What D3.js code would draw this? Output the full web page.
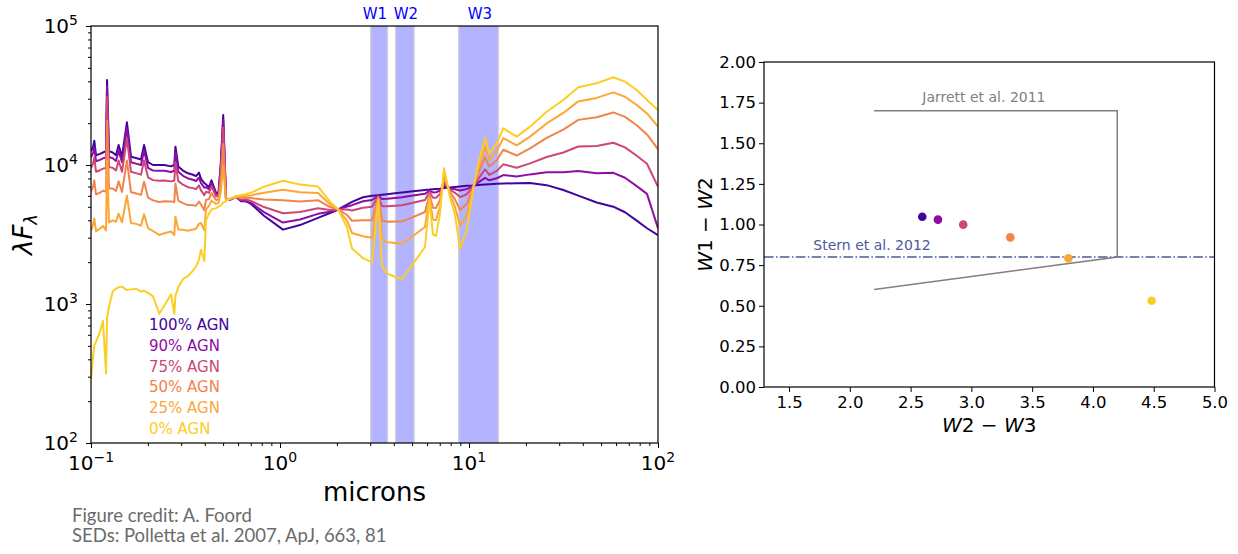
<!DOCTYPE html>
<html><head><meta charset="utf-8">
<script src="https://cdn.jsdelivr.net/npm/d3@7"></script>
<style>body{margin:0;background:#fff;} svg{display:block;font-family:"DejaVu Sans",sans-serif;}</style>
</head><body>
<script>
// ---------------- DATA ----------------
const wavelength = [0.1,0.1025,0.1041,0.1063,0.1116,0.1157,0.1201,0.1216,0.1245,0.1303,
 0.1356,0.1400,0.1459,0.1549,0.1628,0.1730,0.1839,0.1909,0.2003,0.2128,
 0.2298,0.2443,0.2650,0.2759,0.2798,0.2896,0.3067,0.3260,0.3465,0.3594,
 0.3727,0.3819,0.3976,0.4059,0.4210,0.4340,0.4585,0.4726,0.4861,0.5007,
 0.5179,0.5437,0.5852,0.6220,0.6563,0.7024,0.8228,1.037,1.276,1.589,
 1.839,2.035,2.262,2.404,2.749,3.068,3.312,3.465,3.683,4.059,
 4.421,5.054,5.851,6.180,6.449,6.690,7.024,7.375,7.932,8.434,
 8.964,9.724,10.54,11.16,12.16,12.81,14.02,15.19,17.88,21.03,
 25.77,31.54,37.87,47.39,58.01,66.90,77.17,87.47,100];
const agn100 = [12590,13490,14960,11750,12020,12300,12590,40830,12590,12300,
 11750,13930,11480,20280,11480,11220,10960,13930,10470,10000,
 10000,10000,9772,10000,13550,9772,9120,8710,8511,8318,
 8810,7943,7413,7244,6918,7762,6310,6310,10280,22910,
 5754,5623,5916,5495,5495,5248,4315,3428,3698,4169,
 4519,4786,5188,5433,5861,5998,6067,6109,6166,6266,
 6353,6486,6607,6653,6699,6730,6761,6839,6887,6950,
 6998,7079,7129,7178,7244,7278,7328,7362,7396,7413,
 7161,6607,6026,5370,5012,4571,3981,3508,3130];
const agn90 = [11360,12180,13510,10630,10880,11150,11360,36830,11430,11190,
 10700,12670,10470,18380,10460,10230,9987,12660,9543,9114,
 9085,9098,8913,9085,12310,8927,8359,7998,7834,7672,
 8138,7395,6876,6918,6673,7465,6169,6180,9765,21160,
 5729,5636,5920,5556,5562,5354,4582,3856,4052,4452,
 4612,4786,5024,5141,5489,5598,6020,5684,5715,5796,
 5869,6032,6203,6548,6345,6366,6532,7101,6787,6692,
 6549,6710,7092,7460,8076,7763,8027,8463,8256,8560,
 8860,8884,9045,8706,8787,8095,7050,6200,3510];
const agn75 = [9515,10220,11350,8947,9173,9415,9522,30820,9682,9533,
 9135,10780,8944,15530,8929,8737,8528,10760,8154,7784,
 7713,7744,7623,7713,10450,7659,7219,6929,6818,6705,
 7130,6571,6071,6428,6306,7019,5958,5986,8992,18530,
 5690,5656,5926,5645,5663,5514,4982,4498,4585,4877,
 4750,4786,4778,4703,4931,4998,5950,5048,5040,5093,
 5142,5353,5598,6390,5815,5821,6188,7495,6637,6304,
 5877,6156,7037,7884,9323,8492,9076,10110,9547,10280,
 11410,12300,13580,13710,14450,13380,11650,10200,6980];
const agn50 = [6439,6954,7731,6144,6326,6530,6453,20810,6773,6765,
 6519,7624,6407,10770,6377,6254,6095,7588,5836,5568,
 5426,5489,5474,5426,7349,5545,5317,5148,5125,5090,
 5450,5200,4728,5613,5693,6274,5604,5661,7705,14140,
 5625,5689,5937,5795,5831,5779,5649,5569,5471,5584,
 4982,4786,4368,3973,4000,3997,5833,3986,3913,3918,
 3930,4218,4589,6126,4931,4910,5614,8151,6388,5658,
 4755,5234,6946,8589,11400,9704,10820,12870,11700,13150,
 15660,17990,21120,22050,23890,22190,19330,16600,12970];
const agn25 = [3364,3686,4116,3341,3478,3644,3385,10800,3864,3998,
 3904,4472,3871,6014,3826,3771,3663,4417,3520,3351,
 3138,3233,3324,3138,4249,3432,3416,3367,3432,3477,
 3770,3827,3385,4797,5080,5531,5252,5337,6417,9756,
 5560,5722,5947,5945,5999,6045,6316,6639,6358,6291,
 5214,4786,3958,3242,3069,2996,5716,2924,2787,2745,
 2718,3085,3580,5862,4047,4001,5040,8807,6138,5012,
 3634,4311,6853,9295,13480,10920,12570,15620,13850,16010,
 19900,23690,28670,30390,33320,31000,27000,23500,18880];
const agn0 = [288,417,501,537,631,759,316,794,955,1230,
 1288,1318,1334,1259,1274,1288,1230,1245,1202,1135,
 851,977,1175,851,1148,1318,1514,1585,1738,1862,
 2089,2455,2042,3981,4467,4786,4898,5012,5129,5370,
 5495,5754,5957,6095,6166,6310,6982,7709,7244,6998,
 5445,4786,3548,2512,2138,1995,5598,1862,1660,1570,
 1507,1950,2570,5598,3162,3090,4467,9462,5888,4365,
 2512,3388,6761,10000,15560,12130,14320,18370,16000,18880,
 24150,29380,36220,38730,42760,39810,34670,29380,24800];
const seriesLabels = ["100% AGN","90% AGN","75% AGN","50% AGN","25% AGN","0% AGN"];
const seriesColors = ["#41049d","#8f0da4","#cc4778","#f2844b","#fca636","#fcce25"];
const bandNames = ["W1","W2","W3"];
const bandLo = [3.02, 4.09, 8.82];
const bandHi = [3.70, 5.12, 14.3];
const sedXTicks = [0.1, 1, 10, 100];
const sedXTickExp = ["\u22121","0","1","2"];
const sedYTicks = [1e2, 1e3, 1e4, 1e5];
const sedYTickExp = ["2","3","4","5"];
const colorW2W3 = [2.596, 2.725, 2.933, 3.32, 3.798, 4.483];
const colorW1W2 = [1.048, 1.030, 0.999, 0.921, 0.792, 0.531];
const ccXTicks = [1.5, 2.0, 2.5, 3.0, 3.5, 4.0, 4.5, 5.0];
const ccYTicks = [0, 0.25, 0.5, 0.75, 1.0, 1.25, 1.5, 1.75, 2.0];
const jarrettX = [2.2, 4.2, 4.2, 2.2];
const jarrettY = [1.7, 1.7, 0.8, 0.6];
const sternLevel = 0.8;
const creditLines = ["Figure credit: A. Foord", "SEDs: Polletta et al. 2007, ApJ, 663, 81"];

// ---------------- DRAW ----------------
const svg = d3.select("body").append("svg").attr("width",1238).attr("height",554);
const DJ = "'DejaVu Sans', sans-serif";

// ===== Left panel: SEDs =====
const P = {l:91, r:658, t:26, b:443};
const xS = d3.scaleLog().domain([0.1,100]).range([P.l,P.r]);
const yS = d3.scaleLog().domain([100,1e5]).range([P.b,P.t]);
const gL = svg.append("g");
gL.append("clipPath").attr("id","clipL").append("rect")
  .attr("x",P.l).attr("y",P.t).attr("width",P.r-P.l).attr("height",P.b-P.t);

bandNames.forEach((b,i)=>{
  const x0 = xS(bandLo[i]), x1 = xS(bandHi[i]);
  gL.append("rect").attr("x",x0).attr("y",P.t).attr("width",x1-x0).attr("height",P.b-P.t)
    .attr("fill","#b3b3ff");
  [x0,x1].forEach(xx=>gL.append("line").attr("x1",xx).attr("x2",xx).attr("y1",P.t).attr("y2",P.b)
    .attr("stroke","#cfcfd6").attr("stroke-width",1.4));
});
const bandLabelAt = [3.18, 4.64, 11.43];   // label anchor wavelengths (microns)
gL.selectAll("text.band").data(bandNames).enter().append("text")
  .attr("x",(d,i)=>xS(bandLabelAt[i]))
  .attr("y",18.5).attr("text-anchor","middle").attr("font-size",15).attr("font-family",DJ)
  .attr("fill","#0000ff").text(d=>d);

const seriesValues = [agn100, agn90, agn75, agn50, agn25, agn0];
const line = d3.line().x(d=>xS(d[0])).y(d=>yS(d[1]));
seriesValues.forEach((vals,i)=>{
  gL.append("path").datum(wavelength.map((w,j)=>[w,vals[j]]))
    .attr("d",line).attr("fill","none").attr("stroke",seriesColors[i])
    .attr("stroke-width",2).attr("stroke-linejoin","round").attr("clip-path","url(#clipL)");
});

// frame
gL.append("rect").attr("x",P.l).attr("y",P.t).attr("width",P.r-P.l).attr("height",P.b-P.t)
  .attr("fill","none").attr("stroke","#000").attr("stroke-width",1.2);

// ticks
const isMajor = v => sedXTicks.concat(sedYTicks).some(t=>Math.abs(t-v)/t<1e-6);
const minorX = xS.ticks().filter(v=>!isMajor(v));
const minorY = yS.ticks().filter(v=>!isMajor(v));
function cleanAxis(g){ g.select(".domain").remove(); g.selectAll("line").attr("stroke","#000"); }
gL.append("g").attr("transform",`translate(0,${P.b})`)
  .call(d3.axisBottom(xS).tickValues(sedXTicks).tickSize(5).tickFormat(()=>"")).call(cleanAxis);
gL.append("g").attr("transform",`translate(0,${P.b})`)
  .call(d3.axisBottom(xS).tickValues(minorX).tickSize(3).tickFormat(()=>"")).call(cleanAxis);
gL.append("g").attr("transform",`translate(${P.l},0)`)
  .call(d3.axisLeft(yS).tickValues(sedYTicks).tickSize(5).tickFormat(()=>"")).call(cleanAxis);
gL.append("g").attr("transform",`translate(${P.l},0)`)
  .call(d3.axisLeft(yS).tickValues(minorY).tickSize(3).tickFormat(()=>"")).call(cleanAxis);

sedXTicks.forEach((t,i)=>{
  const tx = gL.append("text").attr("x",xS(t)).attr("y",P.b+27).attr("text-anchor","middle")
    .attr("font-size",20).attr("font-family",DJ).attr("fill","#000");
  tx.append("tspan").text("10");
  tx.append("tspan").attr("dy",-8).attr("font-size",14).text(sedXTickExp[i]);
});
sedYTicks.forEach((t,i)=>{
  const tx = gL.append("text").attr("x",P.l-13).attr("y",yS(t)+7).attr("text-anchor","end")
    .attr("font-size",20).attr("font-family",DJ).attr("fill","#000");
  tx.append("tspan").text("10");
  tx.append("tspan").attr("dy",-8).attr("font-size",14).text(sedYTickExp[i]);
});
gL.append("text").attr("x",(P.l+P.r)/2).attr("y",501).attr("text-anchor","middle")
  .attr("font-size",26).attr("font-family",DJ).text("microns");
const yl = gL.append("text").attr("transform",`translate(32,${(P.t+P.b)/2}) rotate(-90)`)
  .attr("text-anchor","middle").attr("font-size",26).attr("font-family",DJ);
yl.append("tspan").attr("font-style","italic").text("\u03bbF");
yl.append("tspan").attr("font-style","italic").attr("font-size",18).attr("dy",5).text("\u03bb");

// legend text
seriesLabels.forEach((s,i)=>{
  gL.append("text").attr("x",P.l+58).attr("y",330+i*20.8).attr("font-size",15)
    .attr("font-family",DJ).attr("fill",seriesColors[i]).text(s);
});

// credits
creditLines.forEach((s,i)=>{
  svg.append("text").attr("x",72).attr("y",521.5+i*20).attr("font-size",18.5)
    .attr("font-family","Lato, 'Open Sans', sans-serif").attr("fill","#6b6b6b").text(s);
});

// ===== Right panel: colour-colour =====
const Q = {l:764, r:1214.5, t:62, b:387};
const xC = d3.scaleLinear().domain([1.294,5.0]).range([Q.l,Q.r]);
const yC = d3.scaleLinear().domain([0,2]).range([Q.b,Q.t]);
const gR = svg.append("g");

// Stern line
gR.append("line").attr("x1",Q.l).attr("x2",Q.r).attr("y1",yC(sternLevel)).attr("y2",yC(sternLevel))
  .attr("stroke","#4b5a9a").attr("stroke-width",1.5).attr("stroke-dasharray","9.6,2.4,1.5,2.4");
gR.append("text").attr("x",xC(1.70)).attr("y",yC(0.846)).attr("font-size",14).attr("font-family",DJ)
  .attr("fill","#4b5a9a").text("Stern et al. 2012");

// Jarrett wedge
gR.append("path").datum(jarrettX.map((v,i)=>[v,jarrettY[i]]))
  .attr("d",d3.line().x(d=>xC(d[0])).y(d=>yC(d[1])))
  .attr("fill","none").attr("stroke","#808080").attr("stroke-width",1.5);
gR.append("text").attr("x",xC(2.596)).attr("y",yC(1.754)).attr("font-size",14).attr("font-family",DJ)
  .attr("fill","#808080").text("Jarrett et al. 2011");

// points
gR.selectAll("circle").data(colorW2W3).enter().append("circle")
  .attr("cx",d=>xC(d)).attr("cy",(d,i)=>yC(colorW1W2[i])).attr("r",4.3)
  .attr("fill",(d,i)=>seriesColors[i]);

// frame
gR.append("rect").attr("x",Q.l).attr("y",Q.t).attr("width",Q.r-Q.l).attr("height",Q.b-Q.t)
  .attr("fill","none").attr("stroke","#000").attr("stroke-width",1.2);

function styleAxis(g){ g.select(".domain").remove(); g.selectAll("line").attr("stroke","#000");
  g.selectAll("text").attr("font-family",DJ).attr("font-size",16.5).attr("fill","#000"); }
gR.append("g").attr("transform",`translate(0,${Q.b})`)
  .call(d3.axisBottom(xC).tickValues(ccXTicks).tickSize(5).tickPadding(4).tickFormat(d3.format(".1f")))
  .call(styleAxis);
gR.append("g").attr("transform",`translate(${Q.l},0)`)
  .call(d3.axisLeft(yC).tickValues(ccYTicks).tickSize(5).tickPadding(3).tickFormat(d3.format(".2f")))
  .call(styleAxis);

const xl = gR.append("text").attr("x",(Q.l+Q.r)/2).attr("y",432).attr("text-anchor","middle")
  .attr("font-size",20).attr("font-family",DJ);
xl.append("tspan").attr("font-style","italic").text("W");
xl.append("tspan").text("2 \u2212 ");
xl.append("tspan").attr("font-style","italic").text("W");
xl.append("tspan").text("3");
const yl2 = gR.append("text").attr("transform",`translate(712,${(Q.t+Q.b)/2}) rotate(-90)`)
  .attr("text-anchor","middle").attr("font-size",20).attr("font-family",DJ);
yl2.append("tspan").attr("font-style","italic").text("W");
yl2.append("tspan").text("1 \u2212 ");
yl2.append("tspan").attr("font-style","italic").text("W");
yl2.append("tspan").text("2");
</script>
</body></html>
